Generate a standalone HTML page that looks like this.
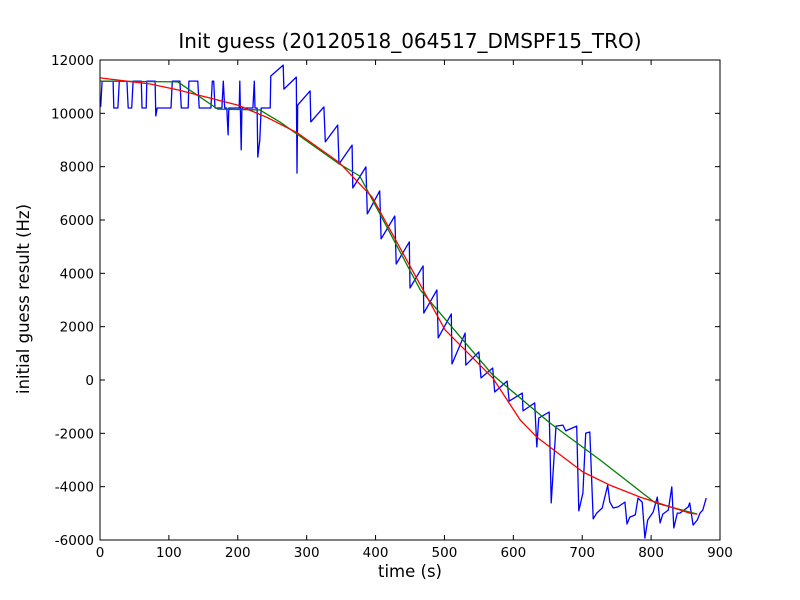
<!DOCTYPE html>
<html><head><meta charset="utf-8"><style>
body{margin:0;background:#fff;}
svg{display:block;font-family:"DejaVu Sans","Liberation Sans",sans-serif;}
</style></head><body>
<svg id="chart" width="800" height="600">
<rect width="800" height="600" fill="#fff"/>
<text x="410" y="48" font-size="20" text-anchor="middle">Init guess (20120518_064517_DMSPF15_TRO)</text>
<text x="410" y="577" font-size="16.5" text-anchor="middle">time (s)</text>
<text x="29" y="299" font-size="16.5" text-anchor="middle" transform="rotate(-90 29 299)">initial guess result (Hz)</text>
<g id="ticks"></g>
<g id="series"></g>
<rect x="100" y="60" width="620" height="480" fill="none" stroke="#000" stroke-width="1"/>
</svg>
<script>
const xTicks=[0,100,200,300,400,500,600,700,800,900];
const yTicks=[-6000,-4000,-2000,0,2000,4000,6000,8000,10000,12000];
const blueSeries=[[1,10240],[3,11210],[19,11210],[20,10200],[26,10200],[28,11210],[39,11210],[41,10200],[46,10200],[48,11210],[60,11210],[61,10200],[67,10200],[68,11210],[80,11210],[81,9900],[83,10200],[103,10200],[105,11210],[116,11210],[118,10200],[128,10200],[129,11210],[142,11210],[144,10200],[161,10200],[163,11210],[165,11210],[167,10200],[177,10200],[179,11210],[181,10200],[184,10200],[186,9190],[187,10200],[202,10200],[203,11210],[205,8630],[206,10200],[222,10200],[224,11210],[225,10200],[228,10200],[229,8360],[232,9000],[234,10200],[247,10200],[248,11400],[266,11810],[267,10910],[285,11360],[286,7760],[287,10310],[305,10840],[306,9680],[325,10240],[327,8930],[345,9560],[347,8100],[366,8810],[367,7200],[386,7990],[388,6230],[406,7090],[408,5290],[428,6150],[430,4350],[449,5180],[450,3450],[469,4280],[470,2510],[489,3380],[491,1580],[510,2480],[511,600],[530,1760],[531,560],[550,1050],[553,80],[570,450],[573,-450],[591,-40],[594,-790],[613,-490],[614,-1160],[631,-860],[634,-2510],[637,-1430],[652,-1200],[655,-4610],[662,-1730],[672,-1690],[676,-1910],[692,-1730],[695,-4910],[701,-4240],[705,-1990],[711,-1950],[716,-5210],[721,-4990],[729,-4800],[737,-3940],[740,-4580],[745,-4800],[752,-4760],[762,-4580],[765,-5400],[769,-5140],[777,-5060],[781,-4430],[787,-4580],[791,-5930],[795,-5250],[803,-4950],[809,-4390],[813,-5360],[817,-5030],[825,-4880],[830,-4010],[833,-5550],[838,-4990],[842,-4990],[854,-4760],[856,-4610],[861,-5440],[867,-5250],[871,-4990],[875,-4880],[880,-4430]];
const greenSeries=[[0,11210],[113,11180],[171,10160],[232,10130],[261,9680],[345,8140],[377,7650],[465,3380],[570,190],[653,-1610],[726,-3000],[806,-4610],[867,-5030]];
const redSeries=[[0,11330],[73,11100],[113,10880],[200,10310],[244,9830],[287,9260],[348,8140],[395,6860],[469,3380],[501,1880],[570,80],[610,-1500],[634,-2140],[701,-3450],[740,-3940],[784,-4390],[856,-4990],[867,-5030]];
const X=t=>100+t*620/900;
const Y=v=>540-(v+6000)*480/18000;
const NS="http://www.w3.org/2000/svg";
const tg=document.getElementById('ticks');
function mk(tag,attrs,parent){const e=document.createElementNS(NS,tag);for(const k in attrs)e.setAttribute(k,attrs[k]);parent.appendChild(e);return e;}
xTicks.forEach(t=>{
  const x=X(t);
  const a=mk('line',{x1:x,x2:x,y1:540,y2:535,stroke:'#000'},tg);
  
  
  const b=mk('line',{x1:x,x2:x,y1:60,y2:65,stroke:'#000'},tg);
  
  
  const l=mk('text',{x:x,y:557,'font-size':13.5,'text-anchor':'middle'},tg);
  l.textContent=t;
  
  
});
yTicks.forEach(v=>{
  const y=Y(v);
  const a=mk('line',{x1:100,x2:105,y1:y,y2:y,stroke:'#000'},tg);
  
  
  const b=mk('line',{x1:715,x2:720,y1:y,y2:y,stroke:'#000'},tg);
  
  
  const l=mk('text',{x:94,y:y+5,'font-size':13.5,'text-anchor':'end'},tg);
  l.textContent=v;
  
  
});
const sg=document.getElementById('series');
function line(data,color,name){
  const p=mk('polyline',{points:data.map(d=>X(d[0]).toFixed(1)+','+Y(d[1]).toFixed(1)).join(' '),fill:'none',stroke:color,'stroke-width':1.3,'stroke-linejoin':'round'},sg);
  
  
}
line(blueSeries,'#0000ff','blue-series-line');
line(greenSeries,'#008000','green-series-line');
line(redSeries,'#ff0000','red-series-line');
</script>
</body></html>
